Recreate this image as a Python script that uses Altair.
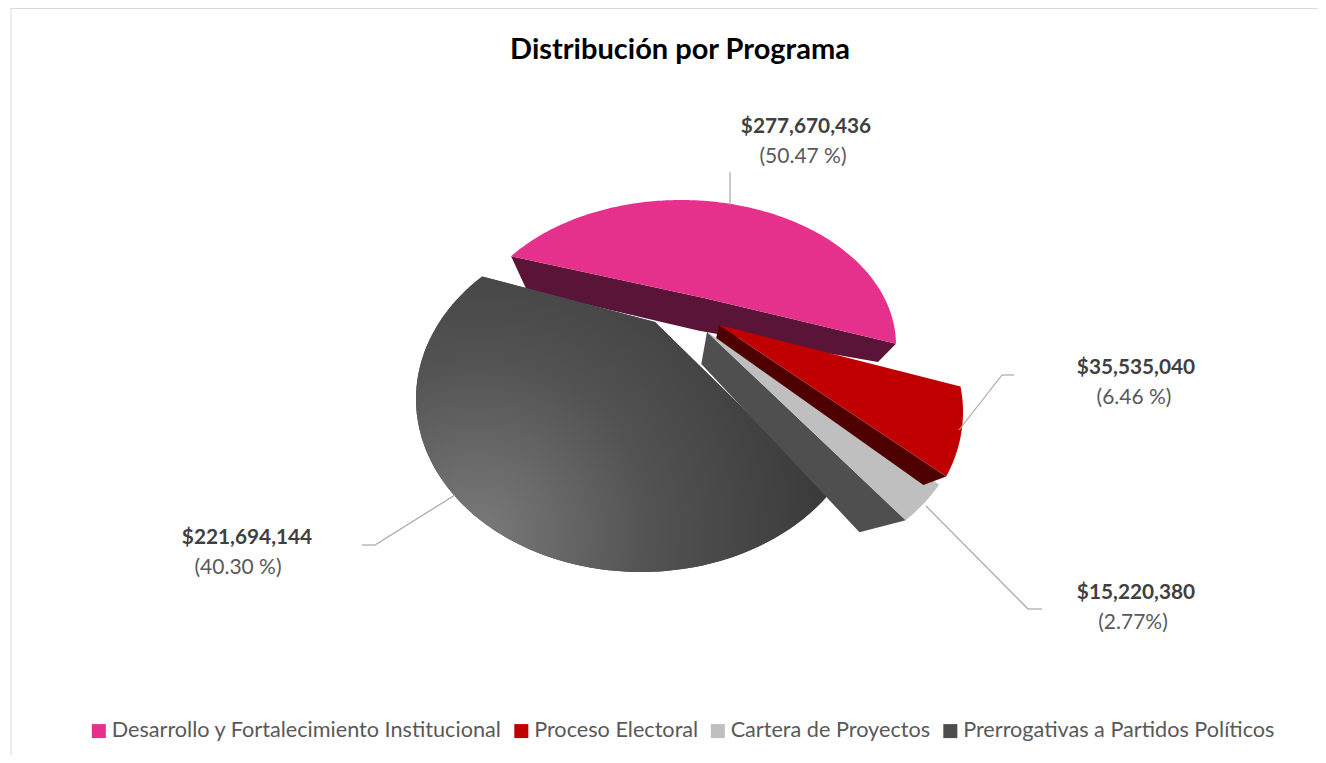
import math
import altair as alt

TITLE = "Distribución por Programa"
CATEGORIES = ["Desarrollo y Fortalecimiento Institucional", "Proceso Electoral",
              "Cartera de Proyectos", "Prerrogativas a Partidos Políticos"]
AMOUNTS = [277670436, 35535040, 15220380, 221694144]
AMOUNT_LABELS = ["$277,670,436", "$35,535,040", "$15,220,380", "$221,694,144"]
PERCENT_LABELS = ["(50.47 %)", "(6.46 %)", "(2.77%)", "(40.30 %)"]
COLORS = ["#E6318C", "#C00000", "#BFBFBF", "#4D4D4D"]

# ---- layout and style (page pixels) ----
OX, OY = 8, 8
W, H = 1310, 747
FONT = "Lato"
START = -69.2
VANISH = (662, 583)
GEO = {  # ellipse centre, semi axes, image of slice apex, side fractions (apex, start rim, end rim), side colour
    0: dict(c=(681, 345), a=215, b=145, apex=(704, 298), rot=-3, f=(.115, .105, .077), side="#5A1437"),
    1: dict(c=(738, 412), a=225, b=170, apex=(719, 325), rot=0, f=(.05, .08, .08), side="#4F0000"),
    2: dict(c=(721.6, 405.5), a=244, b=175, apex=(707, 332), rot=-.5, f=(.127, .19, .19), side="#4F4F4F"),
    3: dict(c=(641, 399), a=225, b=173, apex=(655, 322), rot=-.6, f=None, side=None),
}
TEXT_POS = [((806, 127), (803, 157)), ((1136, 368), (1134, 398)),
            ((1136, 593), (1133, 623)), ((247, 538), (238, 568))]
LEADERS = [[(730, 205), (730, 172)],
           [(959, 430), (1002, 375), (1014, 375)],
           [(926, 506), (1028, 609), (1042, 609)],
           [(455, 495), (375, 545), (362, 545)]]


def project(g, theta):
    px = (g["apex"][0] - g["c"][0]) / g["a"]
    py = (g["c"][1] - g["apex"][1]) / g["b"]
    r = math.hypot(px, py)
    ex, ey = px / r, py / r
    ux, uy = math.sin(math.radians(theta)), math.cos(math.radians(theta))
    along = ux * ex + uy * ey
    qx, qy = ux - along * ex, uy - along * ey
    s = math.sqrt(1 - r * r)
    d = 1 + r * along
    vx = ((along + r) * ex + s * qx) / d
    vy = ((along + r) * ey + s * qy) / d
    return (g["c"][0] + g["a"] * vx, g["c"][1] - g["b"] * vy)


def to_bottom(pt, f):
    return (pt[0] + f * (VANISH[0] - pt[0]), pt[1] + f * (VANISH[1] - pt[1]))


def feature(ring, serie):
    ring = [list(p) for p in ring]
    ring.append(ring[0])
    return {"type": "FeatureCollection", "features": [
        {"type": "Feature", "properties": {"serie": serie},
         "geometry": {"type": "Polygon", "coordinates": [ring]}}]}


def geo_data(ring, serie):
    return alt.Data(values=feature(ring, serie),
                    format=alt.DataFormat(type="json", property="features"))


total = sum(AMOUNTS)
tops, sides = {}, {}
cum = START
for i, v in enumerate(AMOUNTS):
    span = v / total * 360
    g = GEO[i]
    a0, a1 = cum + g["rot"], cum + span + g["rot"]
    n = max(8, int(span))
    arc = [project(g, a0 + (a1 - a0) * k / n) for k in range(n + 1)]
    tops[i] = [g["apex"]] + arc
    if g["f"]:
        fa, fs, fe = g["f"]
        if i == 0:
            sides[i] = [arc[0], g["apex"], arc[-1], to_bottom(arc[-1], fe),
                        to_bottom(g["apex"], fa), to_bottom(arc[0], fs)]
        else:
            sides[i] = [g["apex"], arc[-1], to_bottom(arc[-1], fe), to_bottom(g["apex"], fa)]
    cum += span

PROJ = dict(type="identity", scale=1, translate=[-OX, -OY])
color = alt.Color("properties.serie:N",
                  scale=alt.Scale(domain=CATEGORIES, range=COLORS),
                  legend=alt.Legend(title=None, orient="none", legendX=89 - OX - 1, legendY=720 - OY,
                                    direction="horizontal", columns=4, gridAlign="each",
                                    columnPadding=8.5, symbolType="square", symbolSize=196,
                                    symbolStrokeWidth=0, symbolOffset=0,
                                    labelFont=FONT, labelFontSize=21.65, labelColor="#595959",
                                    labelLimit=600, labelOffset=2))


def top_layer(i):
    return alt.Chart(geo_data(tops[i], CATEGORIES[i])).mark_geoshape(strokeWidth=0).encode(
        color=color).project(**PROJ)


def side_layer(i):
    return alt.Chart(geo_data(sides[i], CATEGORIES[i] + " lado")).mark_geoshape(
        fill=GEO[i]["side"], strokeWidth=0).project(**PROJ)


dark_shade = alt.Chart(geo_data(tops[3], CATEGORIES[3])).mark_geoshape(
    strokeWidth=0,
    fill=alt.RadialGradient(gradient="radial", x1=.15, y1=.76, x2=.15, y2=.76, r1=0, r2=.85,
                            stops=[alt.GradientStop(offset=0, color="#7A7A7A"),
                                   alt.GradientStop(offset=.5, color="#525252"),
                                   alt.GradientStop(offset=1, color="#3A3A3A")])
).project(**PROJ)

layers = [side_layer(0), top_layer(0), top_layer(3), dark_shade,
          side_layer(2), top_layer(2), side_layer(1), top_layer(1)]

base = alt.Chart(alt.Data(values=[{"a": 0}]))
# frame: top and left hairlines
layers.append(base.mark_rule(color="#D9D9D9", strokeWidth=1).encode(
    x=alt.value(3), x2=alt.value(W), y=alt.value(.5), y2=alt.value(.5)))
layers.append(base.mark_rule(color="#D9D9D9", strokeWidth=1).encode(
    x=alt.value(3), x2=alt.value(3), y=alt.value(0), y2=alt.value(H)))

for path in LEADERS:
    for (x0, y0), (x1, y1) in zip(path[:-1], path[1:]):
        layers.append(base.mark_rule(color="#A6A6A6", strokeWidth=1.2).encode(
            x=alt.value(x0 - OX), x2=alt.value(x1 - OX),
            y=alt.value(y0 - OY), y2=alt.value(y1 - OY)))

for i in range(4):
    (ax, ay), (px_, py_) = TEXT_POS[i]
    layers.append(alt.Chart(alt.Data(values=[{"t": AMOUNT_LABELS[i]}])).mark_text(
        font=FONT, fontSize=20.8, fontWeight="bold", color="#404040", align="center", baseline="middle"
    ).encode(text="t:N", x=alt.value(ax - OX), y=alt.value(ay - OY)))
    layers.append(alt.Chart(alt.Data(values=[{"t": PERCENT_LABELS[i]}])).mark_text(
        font=FONT, fontSize=21, color="#595959", align="center", baseline="middle"
    ).encode(text="t:N", x=alt.value(px_ - OX), y=alt.value(py_ - OY)))

chart = alt.layer(*layers).properties(
    width=W, height=H, padding=0, autosize=alt.AutoSizeParams(type="none"), background="#FFFFFF",
    title=alt.TitleParams(TITLE, font=FONT, fontSize=29, fontWeight="bold", color="#000000",
                          anchor="middle", frame="group", baseline="middle", offset=0, dx=17, dy=71),
).configure_view(strokeWidth=0)

chart.save("out.html", embed_options={"renderer": "svg", "actions": False})
